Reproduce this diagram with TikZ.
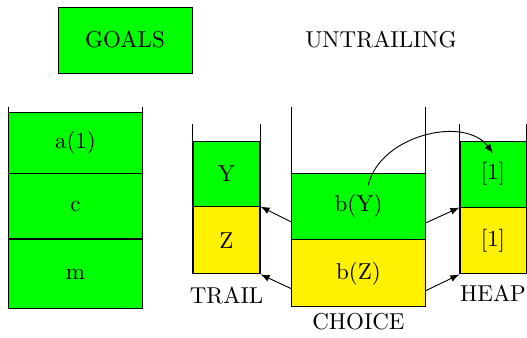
\documentclass[tikz,border=0pt]{standalone}
\usepackage{xcolor}
\usetikzlibrary{arrows, positioning}

\tikzset{
  cell/.style={draw, inner sep=0pt},
  goalcell/.style={cell, fill=green, minimum width=57.9pt},
  trailcell/.style={cell, minimum width=29.1pt},
  choicecell/.style={cell, minimum width=57.9pt},
  heapcell/.style={cell, minimum width=28.7pt, minimum height=28.7pt}
}

\begin{document}
\begin{tikzpicture}[x=0.435pt, y=-0.435pt, >=latex]
      \useasboundingbox (0,0) rectangle (527,337);

      \node[cell, fill=green, minimum width=58.3pt, minimum height=28.7pt] (goals) at (125,40) {GOALS};
      \node (untrailing) at (381,40) {UNTRAILING};

      % goal stack
      \node[goalcell, minimum height=26.5pt] (a1) at (75.5,142.5) {a(1)};
      \node[goalcell, minimum height=28.3pt, below=0pt of a1] (c) {c};
      \node[goalcell, minimum height=30pt, below=0pt of c] (m) {m};
      \draw ([yshift=2.2pt]a1.north west) -- (m.south west);
      \draw ([yshift=2.2pt]a1.north east) -- (m.south east);

      % trail
      \node[trailcell, fill=green, minimum height=28.3pt] (tY) at (226.5,173.5) {Y};
      \node[trailcell, fill=yellow, minimum height=29.1pt, below=0pt of tY] (tZ) {Z};
      \draw ([yshift=7.4pt]tY.north west) -- (tZ.south west);
      \draw ([yshift=7.4pt]tY.north east) -- (tZ.south east);
      \node[below=2pt of tZ] (trail) {TRAIL};

      % choice points
      \node[choicecell, fill=green, minimum height=28.7pt] (bY) at (358.5,206) {b(Y)};
      \node[choicecell, fill=yellow, minimum height=29.1pt, below=0pt of bY] (bZ) {b(Z)};
      \draw ([yshift=28.7pt]bY.north west) -- (bZ.south west);
      \draw ([yshift=28.7pt]bY.north east) -- (bZ.south east);
      \node[below=0.5pt of bZ, inner sep=2pt] (choice) {CHOICE};

      % heap
      \node[heapcell, fill=green] (h1) at (493,174) {[1]};
      \node[heapcell, fill=yellow, below=0pt of h1] (h2) {[1]};
      \draw ([yshift=7pt]h1.north west) -- (h2.south west);
      \draw ([yshift=7pt]h1.north east) -- (h2.south east);
      \node[below=1pt of h2] (heap) {HEAP};

      % pointers
      \draw[->] ([yshift=-7pt]bY.west) -- (tY.south east);
      \draw[->] ([yshift=-6.7pt]bZ.west) -- (tZ.south east);
      \draw[->] ([yshift=-7.4pt]bY.east) -- (h1.south west);
      \draw[->] ([yshift=-7.6pt]bZ.east) -- (h2.south west);
      \draw[->] ([xshift=4.2pt,yshift=9pt]bY.center) .. controls (380,135) and (465,115) .. ([yshift=9pt]h1.center);
\end{tikzpicture}
\end{document}
